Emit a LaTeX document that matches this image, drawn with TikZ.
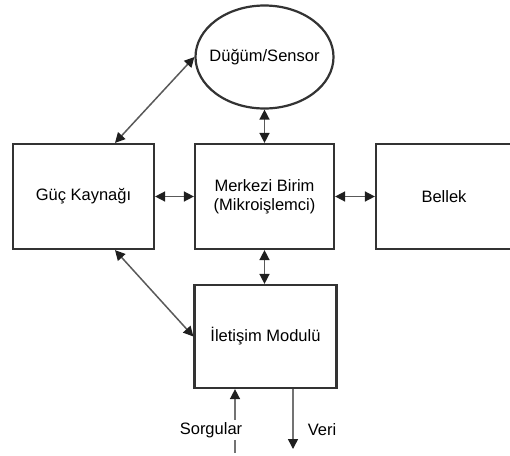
\documentclass[tikz,border=0pt]{standalone}
\usepackage{fontspec}
\setmainfont{Liberation Sans}
\usetikzlibrary{shapes.geometric,arrows.meta,calc}
\begin{document}
\begin{tikzpicture}[x=1pt,y=-1pt,
  txt/.style={font=\fontsize{16.5}{19}\selectfont},
  box/.style={draw=black!80,line width=2.2pt,minimum width=#1,minimum height=105pt,inner sep=0pt,txt,align=center},
  tip/.style={Triangle[length=10pt,width=10pt,color=black!88]},
  conn/.style={draw=black!65,line width=1.5pt,{Triangle[length=10pt,width=10pt,color=black!88]}-{Triangle[length=10pt,width=10pt,color=black!88]}},
  oneway/.style={draw=black!55,line width=1.5pt,-{Triangle[length=10pt,width=10pt,color=black!88]}},
  lbl/.style={txt,fill=white,inner sep=2pt}]
\useasboundingbox (0,0) rectangle (510,455);
\node[draw=black!80,line width=2.2pt,ellipse,minimum width=138pt,minimum height=103pt,inner sep=0pt,txt] (sensor) at (264.5,57) {\makebox[0pt]{Düğüm/Sensor}};
\node[box=141pt] (guc) at (83.5,196.5) {Güç Kaynağı};
\node[box=139pt] (cpu) at (264.5,196.5) {Merkezi Birim\\(Mikroişlemci)};
\node[box=136pt] (bellek) at (444,196.5) {Bellek};
\node[box=142pt,minimum height=103pt] (comm) at (265.5,336.5) {İletişim Modulü};
\draw[conn] (guc) -- (cpu);
\draw[conn] (cpu) -- (bellek);
\draw[conn] (sensor.south) -- (sensor.south |- cpu.north);
\draw[conn] (cpu.south) -- (cpu.south |- comm.north);
\draw[conn] ($(guc.north)+(31.5,0)$) -- (sensor.west);
\draw[conn] ($(guc.south)+(31.5,0)$) -- (comm.west);
\coordinate (sin) at (235,453);
\coordinate (vout) at (293,449);
\draw[oneway] (sin) -- (sin |- comm.south);
\draw[oneway] (vout |- comm.south) -- (vout);
\node[lbl] (sorg) at (211,430) {Sorgular};
\node[lbl] (veri) at (322,430) {Veri};
\end{tikzpicture}
\end{document}
